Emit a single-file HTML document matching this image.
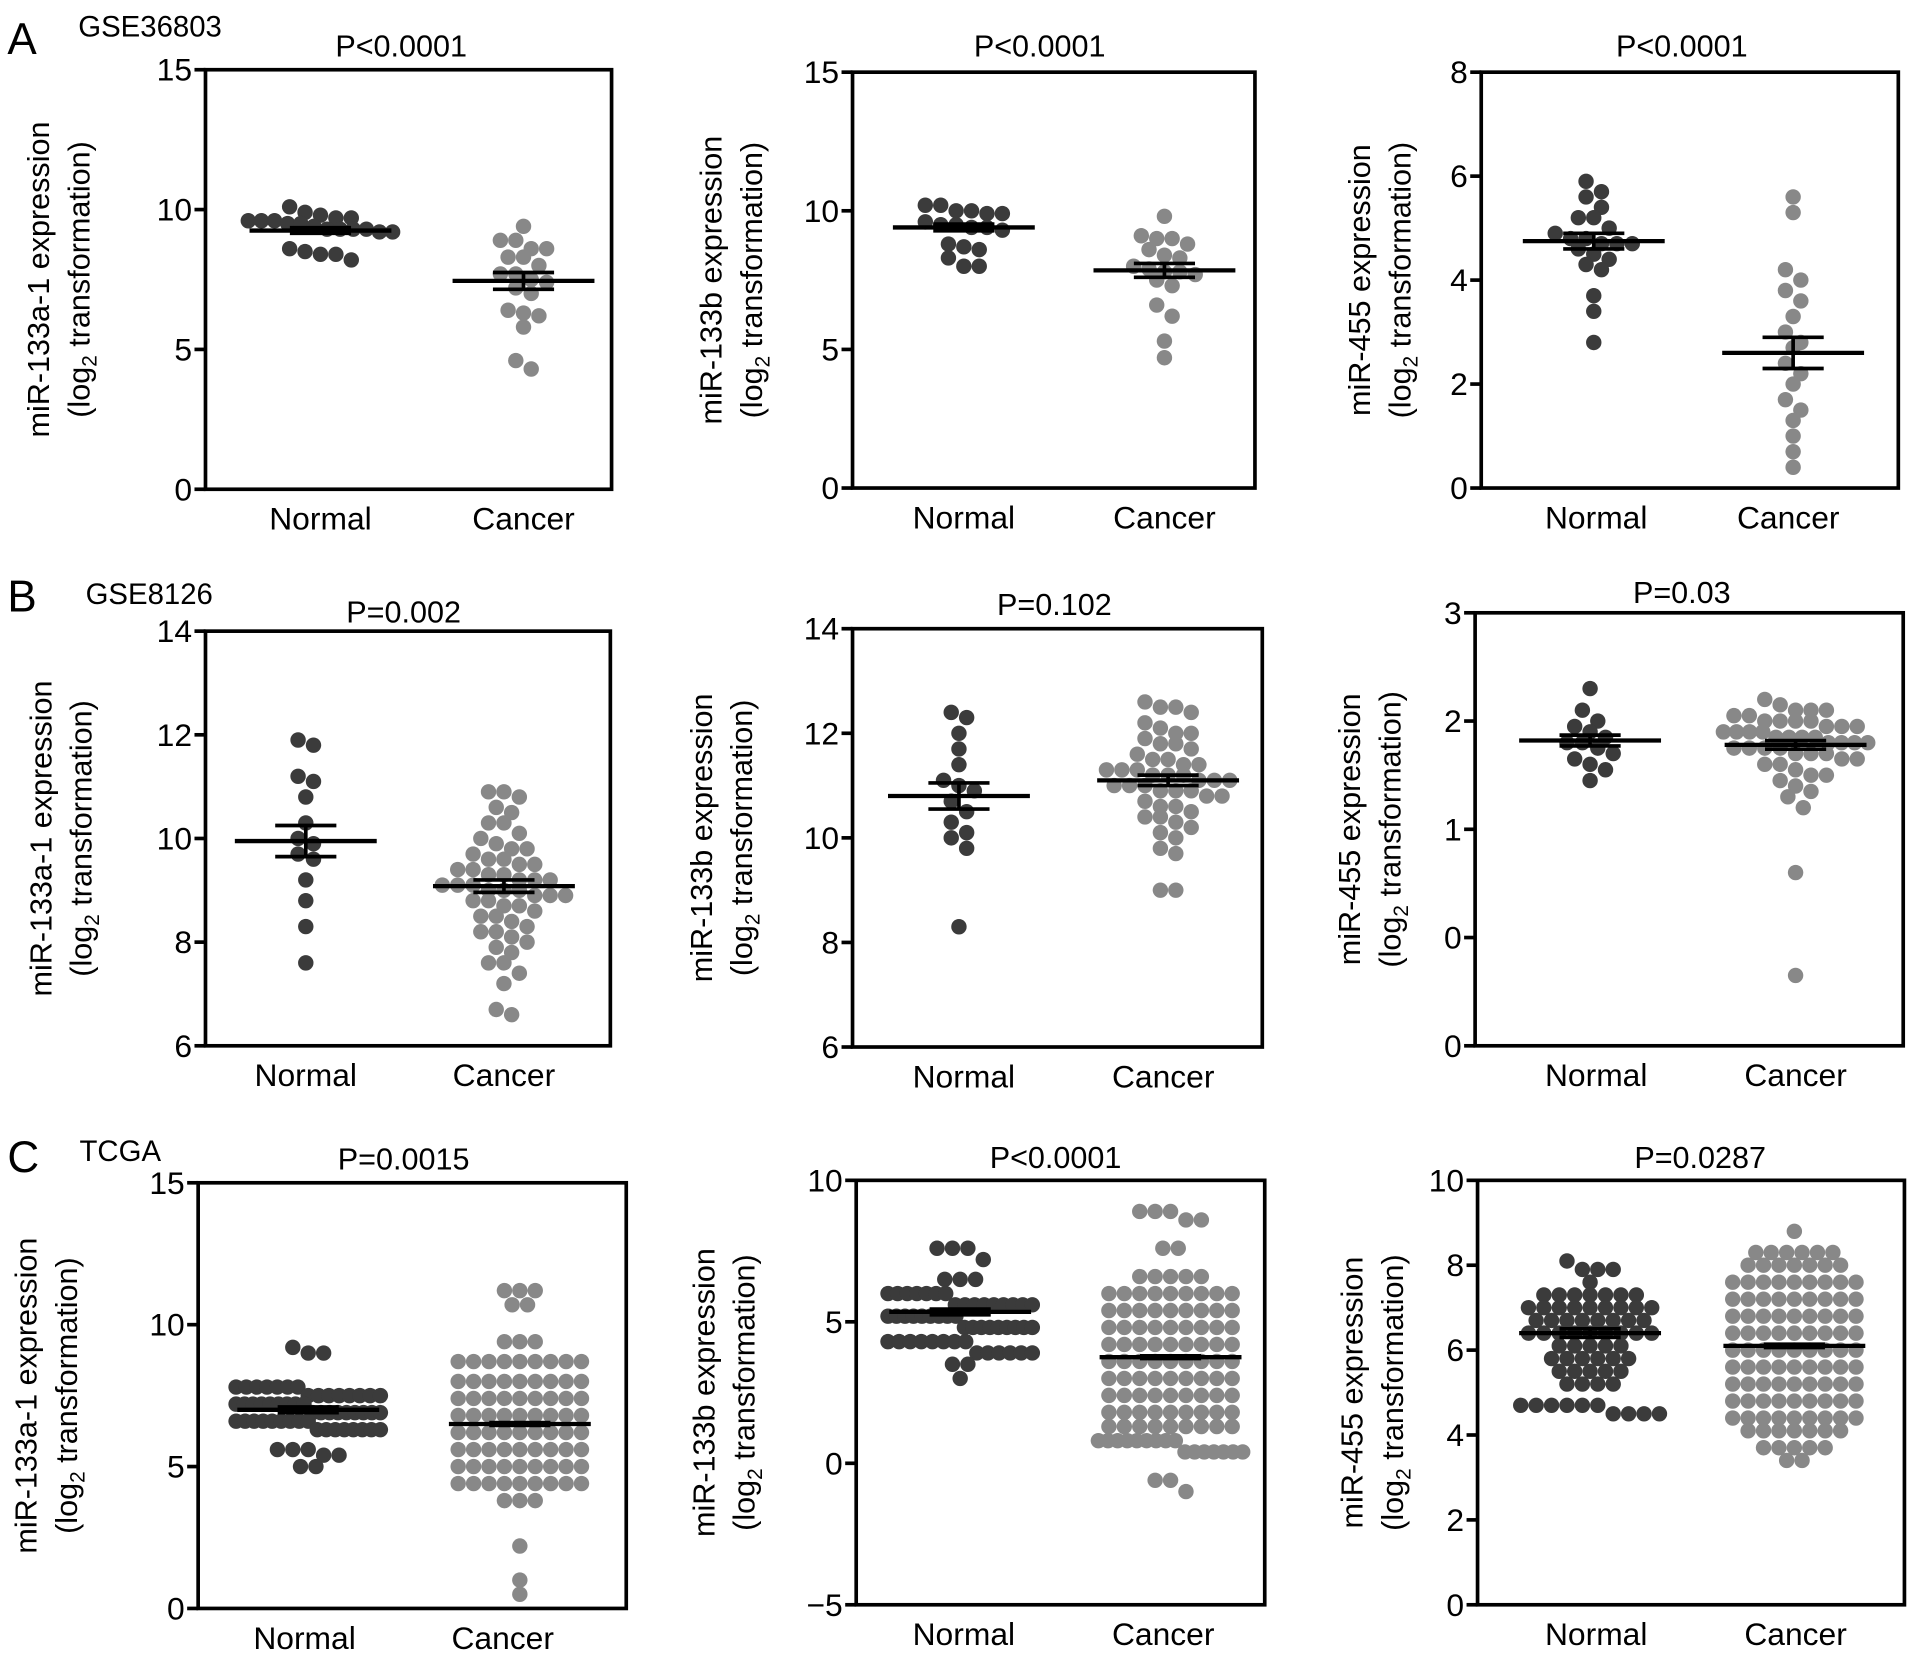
<!DOCTYPE html>
<html><head><meta charset="utf-8"><style>
html,body{margin:0;padding:0;background:#fff;}
svg{display:block;font-family:"Liberation Sans",Arial,sans-serif;}
</style></head><body>
<svg id="fig" width="1913" height="1663" viewBox="0 0 1564 1359.6" xmlns="http://www.w3.org/2000/svg">
<rect width="1564" height="1359.6" fill="#fff"/>
<text x="6" y="44" font-size="36">A</text>
<text x="64" y="30" font-size="24">GSE36803</text>
<text x="6" y="500" font-size="36">B</text>
<text x="70" y="494" font-size="24">GSE8126</text>
<text x="6" y="958" font-size="36">C</text>
<text x="65" y="949" font-size="24">TCGA</text>
<g id="plots"></g>
</svg>
<script>
// ---- data (values in log2 units) ----
const categories = ["Normal", "Cancer"];
const a1Normal = [9.7,9.6,9.5,9.8,9.6,10.1,9.9,9.6,9.7,9.5,9.3,9.3,9.2,9.2,9.3,9.3,8.6,8.4,8.2,8.4,8.5,9.4];
const a1Cancer = [9.4,8.9,8.9,8.6,8.6,8.3,8.3,8.0,7.7,7.7,7.5,7.4,7.2,7.0,6.4,6.3,6.2,5.8,4.6,4.3];
const a2Normal = [10.2,10.2,10.0,10.0,9.9,9.9,9.6,9.5,9.5,9.4,9.4,9.3,8.8,8.7,8.6,8.3,8.0,8.0];
const a2Cancer = [9.8,9.1,9.0,9.0,8.8,8.6,8.4,8.3,8.0,7.9,7.8,7.8,7.7,7.5,7.3,6.6,6.2,5.3,4.7];
const a3Normal = [5.9,5.7,5.6,5.4,5.2,5.2,5.0,4.9,4.8,4.8,4.7,4.7,4.7,4.6,4.5,4.4,4.3,4.2,3.7,3.4,2.8];
const a3Cancer = [5.6,5.3,4.2,4.0,3.8,3.6,3.3,3.0,2.8,2.7,2.4,2.2,2.0,1.7,1.5,1.3,1.0,0.7,0.4];
const b1Normal = [11.9,11.8,11.2,11.1,10.8,10.3,10.0,9.9,9.7,9.6,9.2,8.8,8.3,7.6];
const b1Cancer = [10.9,10.9,10.8,10.6,10.5,10.3,10.3,10.1,10.0,9.9,9.8,9.8,9.7,9.6,9.5,9.5,9.4,9.3,9.3,9.2,9.2,9.2,9.1,9.1,9.0,9.0,9.0,8.9,8.9,8.8,8.8,8.7,8.6,8.5,8.5,8.4,8.3,8.2,8.1,8.0,7.9,7.8,7.6,7.6,7.4,7.2,6.7,6.6,9.6,9.1,8.7,8.2,9.4,8.9];
const b2Normal = [12.4,12.3,12.0,11.7,11.4,11.1,11.0,10.9,10.7,10.5,10.3,10.1,10.0,9.8,8.3];
const b2Cancer = [12.5,12.5,12.6,12.4,12.2,12.1,12.0,11.9,11.8,11.7,11.6,11.5,11.4,11.4,11.3,11.3,11.2,11.2,11.1,11.1,11.0,11.0,10.9,10.9,10.8,10.7,10.6,10.5,10.4,10.3,10.2,10.1,10.0,9.8,9.7,9.0,9.0,11.2,11.0,11.5,10.8,11.8,11.3,10.6,12.0,11.1,10.9,10.4];
const b3Normal = [2.3,2.1,2.0,1.95,1.9,1.85,1.8,1.8,1.75,1.7,1.65,1.6,1.55,1.45];
const b3Cancer = [2.2,2.15,2.1,2.1,2.05,2.0,2.0,1.95,1.95,1.9,1.9,1.85,1.85,1.8,1.8,1.8,1.75,1.75,1.7,1.7,1.65,1.6,1.55,1.5,1.45,1.4,1.3,1.2,0.6,-0.35,2.1,2.05,2.0,1.95,1.9,1.85,1.8,1.75,1.7,1.65,1.6,1.9,2.0,1.85,1.75,1.5,1.35];
// TCGA groups given as value levels with counts
const c1NormalLevels = [9.2,9.0,7.8,7.5,7.2,6.9,6.6,6.3,5.6,5.4,5.0];
const c1NormalCounts = [1,2,7,8,9,9,9,8,3,2,2];
const c1CancerLevels = [11.2,10.7,9.4,8.7,8.0,7.4,6.8,6.2,5.6,5.0,4.4,3.8,2.2,1.0,0.5];
const c1CancerCounts = [3,2,3,9,9,9,9,9,9,9,9,3,1,1,1];
const c2NormalLevels = [7.6,7.2,6.5,6.0,5.6,5.2,4.8,4.3,3.9,3.5,3.0];
const c2NormalCounts = [3,1,3,7,9,9,9,8,6,2,1];
const c2CancerLevels = [8.9,8.6,7.6,6.6,6.0,5.4,4.8,4.2,3.6,3.0,2.4,1.8,1.3,0.8,0.4,-0.6,-1.0];
const c2CancerCounts = [3,2,2,5,9,9,9,9,9,9,9,9,9,9,7,2,1];
const c3NormalLevels = [8.1,7.9,7.6,7.3,7.0,6.7,6.4,6.1,5.8,5.5,5.2,4.7,4.5];
const c3NormalCounts = [1,3,1,7,9,8,9,5,6,5,4,6,4];
const c3CancerLevels = [8.8,8.3,8.0,7.6,7.2,6.8,6.4,6.0,5.6,5.2,4.8,4.4,4.1,3.7,3.4];
const c3CancerCounts = [1,6,7,9,9,9,9,9,9,9,9,9,7,5,2];
// mean and SEM per group (Normal, Cancer)
const a1Mean = [9.25, 7.45], a1Sem = [0.1, 0.3];
const a2Mean = [9.4, 7.85], a2Sem = [0.12, 0.25];
const a3Mean = [4.75, 2.6], a3Sem = [0.15, 0.3];
const b1Mean = [9.95, 9.08], b1Sem = [0.3, 0.12];
const b2Mean = [10.8, 11.1], b2Sem = [0.25, 0.1];
const b3Mean = [1.82, 1.78], b3Sem = [0.05, 0.04];
const c1Mean = [7.0, 6.5], c1Sem = [0.1, 0.05];
const c2Mean = [5.35, 3.75], c2Sem = [0.1, 0.05];
const c3Mean = [6.4, 6.1], c3Sem = [0.1, 0.04];
// titles & axis
const pTitles = ["P<0.0001","P<0.0001","P<0.0001","P=0.002","P=0.102","P=0.03","P=0.0015","P<0.0001","P=0.0287"];
const yLabels = ["miR-133a-1 expression","miR-133b expression","miR-455 expression"];
const a1Ticks=[0,5,10,15], a2Ticks=[0,5,10,15], a3Ticks=[0,2,4,6,8];
const b1Ticks=[6,8,10,12,14], b2Ticks=[6,8,10,12,14], b3Ticks=[-1,0,1,2,3];
const b3TickLabels=["0","0","1","2","3"];
const c1Ticks=[0,5,10,15], c2Ticks=[-5,0,5,10], c3Ticks=[0,2,4,6,8,10];

function expand(levels, counts){const o=[];levels.forEach((v,i)=>{for(let k=0;k<counts[i];k++)o.push(v);});return o;}

const panels = [
 {id:"a1",box:[168,57,500,400],dom:[0,15],ticks:a1Ticks,cx:[262,428],lx:[262,428],data:[a1Normal,a1Cancer],mean:a1Mean,sem:a1Sem,ylab:0,ylx:40,tx:328,ty:46},
 {id:"a2",box:[697,59,1026,399],dom:[0,15],ticks:a2Ticks,cx:[788,952],lx:[788,952],data:[a2Normal,a2Cancer],mean:a2Mean,sem:a2Sem,ylab:1,ylx:590,tx:850,ty:46},
 {id:"a3",box:[1211,59,1552,399],dom:[0,8],ticks:a3Ticks,cx:[1303,1466],lx:[1305,1462],data:[a3Normal,a3Cancer],mean:a3Mean,sem:a3Sem,ylab:2,ylx:1120,tx:1375,ty:46},
 {id:"b1",box:[168,516,499,855],dom:[6,14],ticks:b1Ticks,cx:[250,412],lx:[250,412],data:[b1Normal,b1Cancer],mean:b1Mean,sem:b1Sem,ylab:0,ylx:42,tx:330,ty:509},
 {id:"b2",box:[697,514,1032,856],dom:[6,14],ticks:b2Ticks,cx:[784,955],lx:[788,951],data:[b2Normal,b2Cancer],mean:b2Mean,sem:b2Sem,ylab:1,ylx:582,tx:862,ty:503},
 {id:"b3",box:[1206,501,1556,855],dom:[-1,3],ticks:b3Ticks,tickLabels:b3TickLabels,cx:[1300,1468],lx:[1305,1468],data:[b3Normal,b3Cancer],mean:b3Mean,sem:b3Sem,ylab:2,ylx:1112,tx:1375,ty:493},
 {id:"c1",box:[162,967,512,1315],dom:[0,15],ticks:c1Ticks,cx:[252,425],lx:[249,411],data:[expand(c1NormalLevels,c1NormalCounts),expand(c1CancerLevels,c1CancerCounts)],mean:c1Mean,sem:c1Sem,ylab:0,ylx:30,tx:330,ty:956},
 {id:"c2",box:[700,965,1034,1312],dom:[-5,10],ticks:c2Ticks,cx:[785,957],lx:[788,951],data:[expand(c2NormalLevels,c2NormalCounts),expand(c2CancerLevels,c2CancerCounts)],mean:c2Mean,sem:c2Sem,ylab:1,ylx:584,tx:863,ty:955},
 {id:"c3",box:[1208,965,1557,1312],dom:[0,10],ticks:c3Ticks,cx:[1300,1467],lx:[1305,1468],data:[expand(c3NormalLevels,c3NormalCounts),expand(c3CancerLevels,c3CancerCounts)],mean:c3Mean,sem:c3Sem,ylab:2,ylx:1114,tx:1390,ty:955}
];

const NS="http://www.w3.org/2000/svg";
const root=document.getElementById("plots");
function mk(tag,attrs,parent){const e=document.createElementNS(NS,tag);for(const k in attrs)e.setAttribute(k,attrs[k]);parent.appendChild(e);return e;}
const R=6.3, colors=["#3b3b3b","#888888"];

panels.forEach((p,pi)=>{
  const g=mk("g",{},root);
  
  
  const [x0,y0,x1,y1]=p.box;
  const ys=v=>y1-(v-p.dom[0])/(p.dom[1]-p.dom[0])*(y1-y0);
  // points (swarm)
  p.data.forEach((vals,gi)=>{
    const gg=mk("g",{},g);
    
    
    const sorted=vals.slice().sort((a,b)=>b-a);
    const rows=[];let cur=null;
    sorted.forEach(v=>{const py=ys(v);if(cur&&py-cur.y0<R*1.5){cur.pts.push(py);}else{cur={y0:py,pts:[py]};rows.push(cur);}});
    rows.forEach(row=>{
      const n=row.pts.length;const d=Math.min(2*R,118/Math.max(n-1,1));
      row.pts.forEach((py,i)=>{
        const c=mk("circle",{cx:p.cx[gi]+(i-(n-1)/2)*d,cy:py,r:R,fill:colors[gi]},gg);
        
        
      });
    });
  });
  // mean & sem
  p.mean.forEach((m,gi)=>{
    const cx=p.cx[gi];const my=ys(m),hy=ys(m+p.sem[gi]),ly=ys(m-p.sem[gi]);
    const ml=mk("line",{x1:cx-58,x2:cx+58,y1:my,y2:my,stroke:"#000","stroke-width":3.5},g);
    
    
    const eb=mk("path",{d:`M${cx},${hy}V${ly}M${cx-25},${hy}H${cx+25}M${cx-25},${ly}H${cx+25}`,stroke:"#000","stroke-width":3,fill:"none"},g);
    
    
  });
  // frame
  const fr=mk("rect",{x:x0,y:y0,width:x1-x0,height:y1-y0,fill:"none",stroke:"#000","stroke-width":3},g);
  
  
  // ticks
  p.ticks.forEach((t,ti)=>{
    const ty=ys(t);
    const tl=mk("line",{x1:x0-9,x2:x0,y1:ty,y2:ty,stroke:"#000","stroke-width":3},g);
    
    
    const tt=mk("text",{x:x0-11,y:ty+9,"font-size":26,"text-anchor":"end"},g);
    tt.textContent=p.tickLabels?p.tickLabels[ti]:(t<0?"\u2212"+(-t):String(t));
    
    
  });
  // category labels
  categories.forEach((c,gi)=>{
    const t=mk("text",{x:p.lx[gi],y:y1+33,"font-size":26,"text-anchor":"middle"},g);
    t.textContent=c;
    
    
  });
  // title
  const ti=mk("text",{x:p.tx,y:p.ty,"font-size":25,"text-anchor":"middle"},g);
  ti.textContent=pTitles[pi];
  
  
  // y label
  const cy=(y0+y1)/2;
  const yl=mk("text",{transform:`translate(${p.ylx},${cy}) rotate(-90)`,"font-size":25,"text-anchor":"middle"},g);
  yl.textContent=yLabels[p.ylab];
  
  
  const yl2=mk("text",{transform:`translate(${p.ylx+33},${cy}) rotate(-90)`,"font-size":25,"text-anchor":"middle"},g);
  
  
  const s1=mk("tspan",{},yl2);s1.textContent="(log";
  const s2=mk("tspan",{dy:6,"font-size":17},yl2);s2.textContent="2";
  const s3=mk("tspan",{dy:-6},yl2);s3.textContent=" transformation)";
});
</script>
</body></html>
